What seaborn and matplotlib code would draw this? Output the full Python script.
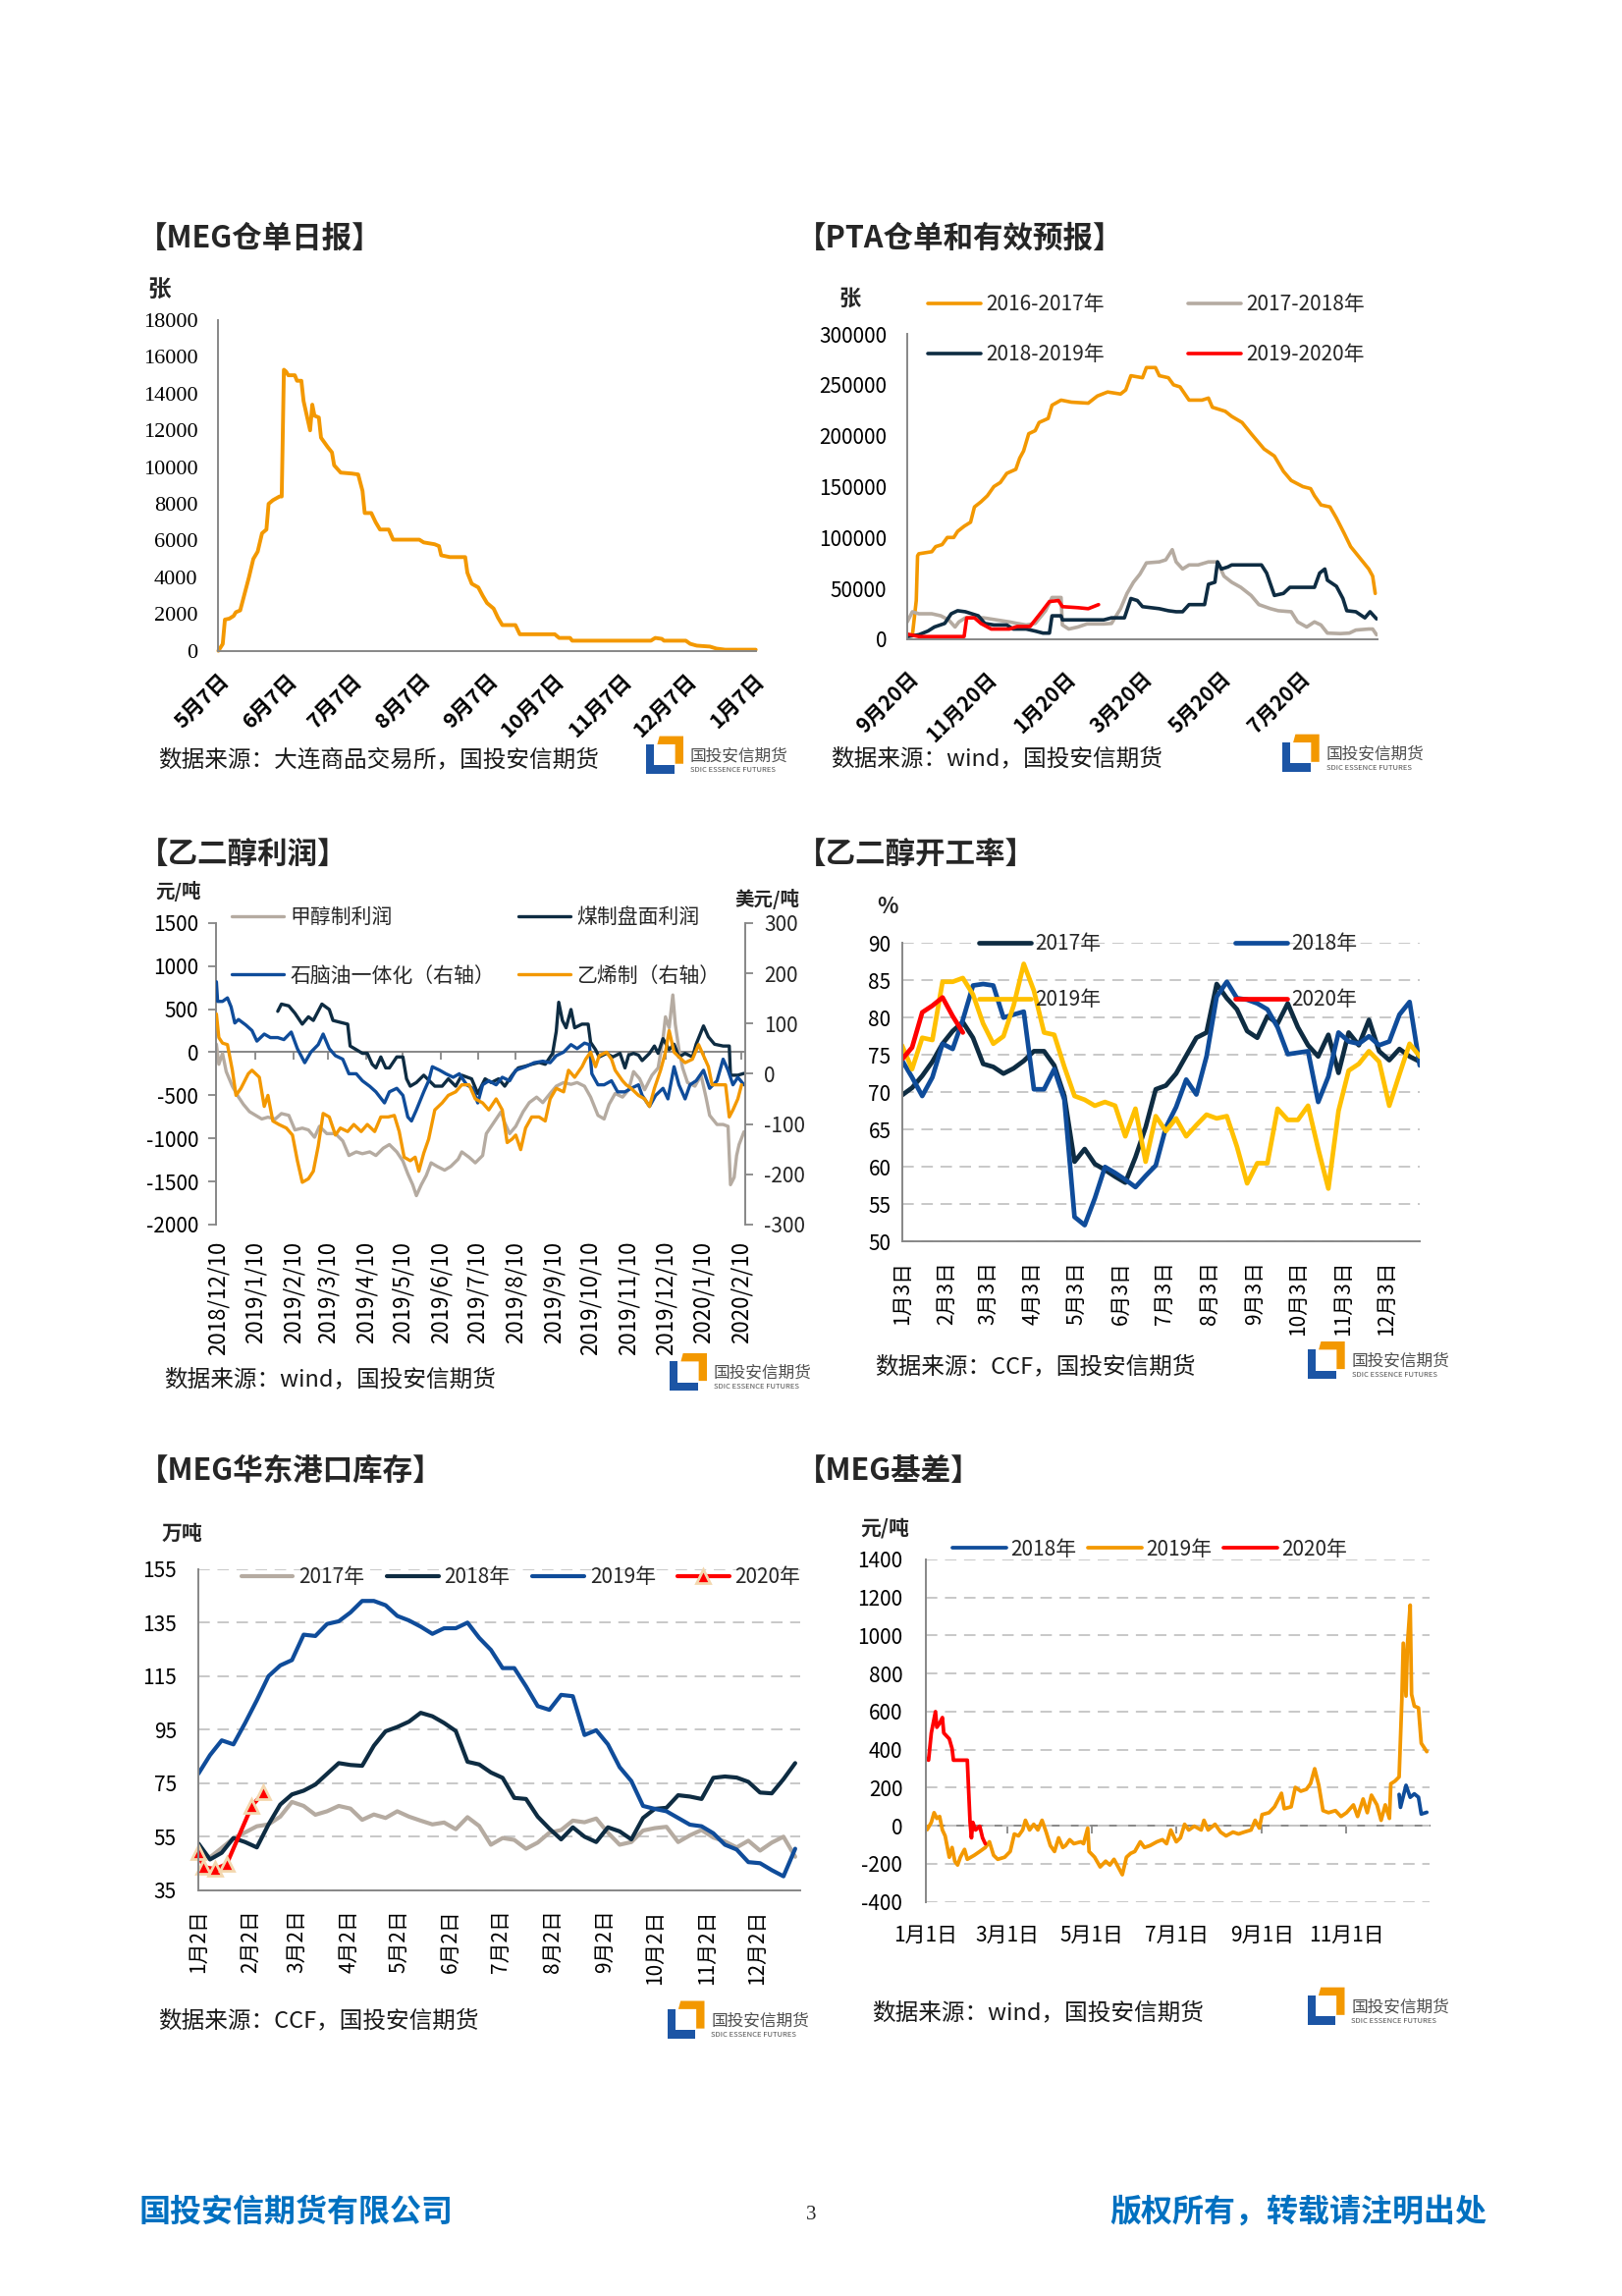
import pandas as pd
import matplotlib
matplotlib.use("Agg")
import matplotlib.pyplot as plt
import seaborn as sns
from matplotlib.patches import Polygon

W, H = 1652, 2338

ORANGE = "#F39800"
GRAY = "#B5ABA1"
NAVY = "#0E2C42"
BLUE = "#0F4C9A"
RED = "#FF0000"
GOLD = "#FFC000"
AXIS_GRAY = "#878787"
GRID_GRAY = "#C8C8C8"
FOOT_BLUE = "#0070C0"
LOGO_BLUE = "#1C55A5"

# ---------------- data ----------------
# MEG warehouse receipts (dates, receipts)
meg_dates = ["2019-05-07", "2019-05-09", "2019-05-10", "2019-05-12", "2019-05-14", "2019-05-15",
             "2019-05-17", "2019-05-19", "2019-05-21", "2019-05-23", "2019-05-25", "2019-05-27",
             "2019-05-29", "2019-05-30", "2019-06-01", "2019-06-04", "2019-06-05", "2019-06-06",
             "2019-06-07", "2019-06-08", "2019-06-11", "2019-06-12", "2019-06-14", "2019-06-15",
             "2019-06-18", "2019-06-19", "2019-06-20", "2019-06-22", "2019-06-23", "2019-06-26",
             "2019-06-28", "2019-06-29", "2019-07-02", "2019-07-07", "2019-07-10", "2019-07-12",
             "2019-07-13", "2019-07-16", "2019-07-18", "2019-07-20", "2019-07-24", "2019-07-26",
             "2019-08-07", "2019-08-09", "2019-08-14", "2019-08-16", "2019-08-17", "2019-08-21",
             "2019-08-28", "2019-08-29", "2019-08-31", "2019-09-03", "2019-09-05", "2019-09-07",
             "2019-09-10", "2019-09-12", "2019-09-14", "2019-09-20", "2019-09-22", "2019-10-08",
             "2019-10-10", "2019-10-15", "2019-10-16", "2019-11-21", "2019-11-23", "2019-11-26",
             "2019-11-27", "2019-12-07", "2019-12-09", "2019-12-12", "2019-12-18", "2019-12-21",
             "2019-12-25", "2020-01-08"]
meg_receipts = [0, 370, 1700, 1750, 1900, 2100,
                2200, 3100, 4000, 5000, 5400, 6400,
                6600, 8000, 8200, 8400, 8400, 15300,
                15200, 15000, 15000, 14700, 14700, 13600,
                12000, 13400, 12800, 12700, 11600, 11100,
                10800, 10100, 9700, 9650, 9600, 8700,
                7500, 7500, 7000, 6600, 6600, 6050,
                6050, 5900, 5800, 5700, 5200, 5100,
                5100, 4250, 3650, 3450, 3000, 2600,
                2300, 1800, 1400, 1400, 900, 900,
                700, 700, 550, 550, 700, 650,
                550, 550, 380, 280, 230, 120,
                60, 60]
meg_tick_dates = ["2019-05-07", "2019-06-07", "2019-07-07", "2019-08-07", "2019-09-07",
                  "2019-10-07", "2019-11-07", "2019-12-07", "2020-01-07"]
meg_tick_labels = ["5月7日", "6月7日", "7月7日", "8月7日", "9月7日", "10月7日", "11月7日", "12月7日", "1月7日"]

# PTA receipts: (days after 9月20日, receipts)
pta_1617 = [(0, 4400), (4, 4000), (7, 38000), (8, 82000), (9, 84000), (19, 86000), (22, 91000),
            (27, 93000), (31, 100000), (36, 100000), (39, 106000), (44, 111000), (49, 115000),
            (52, 130000), (57, 135000), (62, 141000), (67, 150000), (72, 154000), (77, 163000),
            (84, 167000), (87, 178000), (90, 185000), (94, 202000), (99, 205000), (102, 213000),
            (109, 217000), (112, 230000), (119, 235000), (127, 233000), (140, 232000), (147, 239000),
            (155, 243000), (165, 241000), (169, 245000), (173, 259000), (182, 257000), (185, 267000),
            (192, 267000), (195, 259000), (202, 257000), (206, 250000), (211, 248000), (218, 235000),
            (228, 235000), (233, 237000), (236, 228000), (246, 224000), (251, 219000), (259, 213000),
            (266, 202000), (276, 187000), (284, 180000), (291, 165000), (297, 156000), (306, 150000),
            (312, 148000), (315, 141000), (320, 132000), (327, 130000), (332, 119000), (338, 104000),
            (343, 91000), (350, 80000), (357, 69000), (360, 62000), (362, 45000)]
pta_1718 = [(0, 17000), (4, 27000), (9, 25000), (19, 25000), (26, 23000), (32, 19000), (37, 12000),
            (40, 17000), (45, 21000), (59, 21000), (69, 19000), (79, 17000), (85, 15500), (92, 14000),
            (99, 15500), (107, 28000), (112, 41000), (119, 41000), (120, 14000), (125, 10000),
            (132, 12000), (139, 15000), (152, 15000), (158, 15500), (165, 30000), (170, 45000),
            (175, 56000), (180, 64000), (185, 75000), (195, 76000), (200, 78000), (205, 88000),
            (208, 76000), (213, 69000), (218, 73000), (225, 73000), (233, 76000), (240, 76000),
            (245, 62000), (251, 56000), (258, 51000), (266, 43000), (272, 34000), (281, 30000),
            (287, 28000), (297, 27000), (302, 17000), (309, 12000), (315, 17000), (320, 14000),
            (325, 6000), (335, 5500), (342, 6000), (347, 9000), (357, 10000), (360, 10000), (363, 4400)]
pta_1819 = [(0, 2600), (9, 4400), (16, 8000), (21, 12000), (29, 15500), (34, 25000), (39, 28000),
            (45, 27000), (50, 25000), (55, 23000), (60, 15500), (67, 14000), (77, 14000), (82, 10000),
            (92, 10000), (99, 8000), (105, 6000), (110, 6000), (112, 23000), (119, 23000), (120, 19000),
            (152, 19000), (158, 21000), (168, 21000), (173, 40000), (178, 38000), (182, 32000),
            (195, 30000), (202, 28000), (208, 27000), (213, 27000), (218, 34000), (230, 34000),
            (233, 54000), (238, 56000), (240, 76000), (243, 69000), (248, 71000), (251, 73000),
            (274, 73000), (278, 65000), (284, 43000), (291, 45000), (296, 51000), (315, 51000),
            (319, 65000), (323, 69000), (325, 58000), (332, 52000), (337, 40000), (340, 28000),
            (347, 27000), (354, 21000), (358, 27000), (363, 20000)]
pta_1920 = [(0, 5000), (9, 2600), (44, 2600), (46, 21000), (52, 21000), (57, 15500), (65, 10000),
            (79, 10000), (85, 12500), (95, 12500), (104, 27000), (110, 37000), (117, 38000),
            (120, 32000), (132, 31000), (140, 30000), (148, 34000)]
pta_tick_dates = ["2016-09-20", "2016-11-20", "2017-01-20", "2017-03-20", "2017-05-20", "2017-07-20"]
pta_tick_labels = ["9月20日", "11月20日", "1月20日", "3月20日", "5月20日", "7月20日"]

# MEG profit: (days after 2018/12/10, value)
meoh_profit = [(-1, 93), (1, -140), (4, -13), (7, -225), (12, -395), (17, -520), (21, -605), (26, -690),
               (31, -733), (36, -775), (41, -754), (47, -775), (52, -712), (58, -733), (63, -902),
               (69, -881), (74, -902), (79, -987), (83, -860), (89, -945), (96, -945), (102, -1030),
               (107, -1199), (113, -1157), (118, -1178), (124, -1157), (129, -1199), (135, -1114),
               (140, -1072), (146, -1157), (151, -1263), (155, -1411), (159, -1538), (162, -1665),
               (166, -1538), (170, -1432), (174, -1284), (179, -1326), (185, -1369), (190, -1326),
               (196, -1242), (199, -1157), (205, -1220), (210, -1284), (216, -1199), (219, -945),
               (225, -818), (231, -691), (234, -818), (238, -945), (243, -860), (249, -691), (254, -585),
               (260, -521), (265, -585), (271, -479), (276, -394), (282, -352), (288, -373), (293, -352),
               (299, -394), (304, -521), (310, -733), (315, -775), (319, -606), (324, -479), (330, -521),
               (335, -436), (339, -225), (344, -309), (348, -436), (354, -267), (359, -182), (363, 157),
               (365, 411), (368, 284), (371, 665), (373, 326), (376, 30), (379, -182), (383, -352),
               (389, -394), (394, -267), (398, -521), (401, -733), (407, -839), (412, -839), (416, -860),
               (418, -1538), (421, -1453), (423, -1199), (425, -1072), (429, -924)]
coal_profit = [(49, 475), (52, 559), (58, 538), (63, 453), (69, 326), (74, 411), (78, 369), (85, 559),
               (91, 496), (94, 369), (100, 347), (106, 326), (108, 72), (113, 30), (118, -13), (122, -13),
               (126, -140), (129, -182), (133, -55), (137, -182), (140, -182), (146, -55), (151, -55),
               (154, -309), (157, -394), (162, -352), (168, -267), (174, -352), (177, -394), (183, -394),
               (188, -309), (194, -394), (199, -267), (207, -309), (212, -479), (218, -309), (223, -352),
               (229, -309), (234, -394), (240, -267), (245, -182), (251, -161), (256, -140), (262, -119),
               (267, -140), (273, -13), (276, 242), (278, 580), (281, 369), (284, 284), (288, 496),
               (291, 284), (297, 326), (302, 326), (304, 114), (308, 30), (311, -55), (317, -13),
               (322, -55), (328, -13), (332, -182), (335, -34), (339, -13), (343, -34), (346, -97),
               (352, -13), (356, 72), (359, -13), (363, 157), (368, 30), (372, 93), (376, -55), (381, -13),
               (387, -55), (390, 93), (396, 305), (400, 178), (405, 93), (412, 72), (417, 72), (418, -267),
               (424, -267), (429, -246)]
naphtha_profit = [(-1, 183), (0, 144), (4, 144), (8, 151), (11, 133), (14, 101), (17, 108), (23, 97),
                  (28, 86), (32, 65), (38, 79), (43, 72), (49, 72), (54, 68), (60, 83), (65, 50), (71, 22),
                  (76, 43), (82, 58), (86, 79), (91, 50), (96, 36), (102, 29), (107, 0), (113, 0),
                  (118, -14), (124, -25), (129, -36), (136, -58), (140, -36), (146, -29), (151, -43),
                  (155, -86), (158, -94), (162, -72), (168, -36), (172, -14), (175, 14), (181, 7), (186, 0),
                  (192, -7), (197, 0), (203, -22), (208, -29), (212, -58), (216, -22), (221, -14),
                  (227, -22), (232, -7), (238, -14), (243, 7), (251, 14), (258, 22), (265, 25), (271, 22),
                  (276, 36), (282, 43), (288, 58), (293, 50), (299, 61), (303, 58), (305, 0), (310, -22),
                  (315, -22), (321, -14), (326, -36), (332, -36), (337, -29), (343, -22), (346, -43),
                  (352, -65), (357, -43), (363, -29), (367, -50), (372, 14), (376, -22), (381, -50),
                  (385, -22), (390, -14), (396, 7), (401, -29), (407, -14), (412, 29), (416, 7), (420, -22),
                  (424, -7), (429, -22)]
ethylene_profit = [(-1, 119), (1, 72), (4, 61), (8, 58), (12, 7), (15, -43), (19, -29), (25, 0), (28, 7),
                   (34, -7), (38, -65), (41, -43), (45, -94), (50, -101), (56, -108), (61, -122),
                   (65, -173), (69, -216), (74, -209), (78, -194), (82, -144), (86, -79), (91, -86),
                   (96, -122), (100, -108), (106, -115), (111, -101), (117, -115), (122, -101), (128, -115),
                   (133, -86), (139, -86), (144, -83), (148, -115), (152, -166), (157, -173), (161, -166),
                   (164, -194), (168, -158), (172, -130), (177, -72), (183, -58), (188, -43), (194, -36),
                   (199, -22), (205, -22), (210, -50), (216, -58), (221, -72), (227, -50), (232, -72),
                   (236, -137), (240, -130), (243, -122), (247, -151), (251, -108), (256, -86), (262, -86),
                   (267, -94), (271, -50), (276, -29), (282, -36), (286, 7), (291, -7), (297, 14), (300, 29),
                   (304, 43), (308, 14), (311, 36), (317, 43), (321, 29), (324, 7), (330, -14), (333, -22),
                   (337, -29), (343, -43), (348, -50), (352, -65), (356, -29), (361, 7), (365, 43), (368, 86),
                   (372, 43), (378, 29), (381, 22), (387, 29), (392, 58), (396, 36), (400, 14), (403, -22),
                   (409, -22), (414, -22), (417, -86), (420, -72), (424, -50), (427, -22)]
profit_tick_labels = ["2018/12/10", "2019/1/10", "2019/2/10", "2019/3/10", "2019/4/10", "2019/5/10",
                      "2019/6/10", "2019/7/10", "2019/8/10", "2019/9/10", "2019/10/10", "2019/11/10",
                      "2019/12/10", "2020/1/10", "2020/2/10"]

# MEG operating rate, weekly from 1月3日 (%)
rate_2017 = [69.6, 70.6, 72.2, 74.1, 76.5, 78.2, 79.4, 77.3, 73.8, 73.4,
             72.5, 73.2, 74.2, 75.5, 75.5, 73.6, 69.5, 60.7, 62.4, 60.4,
             59.6, 58.7, 57.9, 61.3, 65.3, 70.4, 70.9, 72.5, 74.9, 77.3,
             78.0, 84.5, 82.6, 81.1, 78.2, 77.3, 80.2, 79.2, 81.9, 78.7,
             76.3, 74.8, 77.7, 72.6, 78.0, 76.3, 79.7, 75.5, 74.3, 75.8,
             74.8, 74.1]
rate_2018 = [74.3, 72.0, 69.5, 72.0, 76.5, 75.8, 79.7, 84.3, 84.5, 84.3,
             80.0, 80.4, 80.8, 70.4, 70.4, 73.1, 69.0, 53.3, 52.2, 55.8,
             60.0, 59.2, 58.3, 57.3, 58.8, 60.2, 65.3, 68.0, 71.7, 69.7,
             74.8, 82.8, 84.8, 82.6, 82.4, 81.9, 81.1, 78.7, 75.1, 75.3,
             75.5, 68.7, 72.1, 78.0, 76.8, 76.5, 77.5, 76.3, 76.8, 80.4,
             82.1, 73.6]
rate_2019 = [76.3, 73.1, 77.3, 77.0, 84.8, 84.8, 85.3, 83.1, 79.2, 76.5,
             77.5, 81.6, 87.2, 83.6, 78.0, 77.7, 73.4, 69.5, 69.0, 68.2,
             68.7, 68.2, 64.1, 67.8, 60.7, 66.8, 64.8, 66.5, 64.1, 65.6,
             67.0, 66.5, 66.8, 62.7, 57.8, 60.5, 60.5, 67.8, 66.3, 66.3,
             68.2, 62.4, 57.1, 67.5, 72.9, 73.8, 75.5, 74.1, 68.2, 72.4,
             76.5, 74.8]
rate_2020 = [74.4, 76.0, 80.7, 81.6, 82.7, 80.2, 78.0]
rate_tick_dates = ["2019-%02d-03" % m for m in range(1, 13)]
rate_tick_labels = ["%d月3日" % m for m in range(1, 13)]

# MEG East China port inventory, weekly from 1月2日 (万吨)
inv_2017 = [48.8, 47.3, 50.8, 54.4, 56.6, 58.9, 59.6, 62.5, 68.0, 66.5,
            63.2, 64.5, 66.5, 65.5, 61.3, 63.3, 62.0, 64.5, 62.5, 61.0,
            59.6, 60.3, 57.8, 62.3, 59.0, 52.0, 54.5, 53.8, 50.5, 52.8,
            56.5, 57.5, 61.0, 60.4, 61.8, 56.5, 52.0, 53.0, 57.3, 58.2,
            58.7, 53.0, 55.5, 57.5, 54.7, 53.2, 51.0, 53.5, 49.8, 52.8,
            55.0, 47.5]
inv_2018 = [52.5, 46.5, 49.0, 54.5, 53.0, 51.0, 59.6, 67.0, 70.8, 72.2,
            74.5, 78.5, 82.5, 81.8, 81.5, 89.0, 94.4, 96.0, 98.0, 101.3,
            100.0, 97.5, 94.5, 83.0, 82.0, 79.0, 77.0, 69.5, 69.1, 62.5,
            58.0, 54.0, 58.5, 55.0, 53.0, 58.5, 57.0, 54.0, 62.0, 65.4,
            65.8, 70.5, 70.0, 69.1, 77.0, 77.5, 77.1, 75.5, 71.5, 71.2,
            76.5, 82.5]
inv_2019 = [78.5, 85.5, 91.0, 89.5, 97.5, 106.0, 115.0, 119.0, 121.0, 130.5,
            130.0, 134.5, 135.5, 138.8, 143.1, 143.1, 141.5, 137.5, 135.8, 133.5,
            130.8, 132.9, 132.9, 135.0, 129.3, 124.8, 118.0, 118.0, 111.2, 103.8,
            102.4, 108.0, 107.5, 93.0, 94.8, 89.5, 81.0, 75.8, 66.5, 65.4,
            64.5, 62.0, 59.5, 58.9, 56.3, 52.0, 50.2, 45.5, 45.1, 42.5,
            40.2, 50.5]
inv_2020_days = [0, 3, 10, 17, 32, 39]
inv_2020 = [49.4, 43.7, 42.9, 44.8, 66.5, 71.5]
inv_tick_dates = ["2019-%02d-02" % m for m in range(1, 13)]
inv_tick_labels = ["%d月2日" % m for m in range(1, 13)]

# MEG basis: (days after 1月1日, 元/吨)
basis_2018 = [(342, 165), (343, 97), (347, 213), (350, 150), (353, 168), (356, 150), (358, 62), (362, 71)]
basis_2019 = [(0, 0), (1, -20), (4, 18), (6, 69), (8, 39), (10, 49), (12, -22), (14, -53), (17, -165),
              (19, -114), (21, -186), (23, -206), (25, -165), (28, -124), (30, -176), (35, -155), (39, -135),
              (43, -114), (46, -84), (49, -155), (52, -176), (57, -165), (61, -135), (64, -43), (67, -53),
              (70, -22), (72, 29), (75, -22), (78, 8), (81, -22), (84, 29), (87, -33), (90, -104),
              (93, -135), (96, -63), (99, -114), (101, -104), (104, -73), (107, -94), (112, -84), (114, -94),
              (117, -12), (118, -135), (122, -165), (126, -216), (130, -186), (133, -206), (136, -176),
              (139, -216), (142, -257), (145, -165), (148, -145), (151, -135), (155, -84), (158, -114),
              (162, -104), (167, -84), (171, -73), (174, -94), (177, -22), (181, -84), (184, -63), (187, 8),
              (190, -22), (194, -2), (199, -22), (201, 29), (204, -22), (209, 8), (213, -33), (217, -53),
              (222, -33), (226, -43), (230, -33), (235, -22), (238, 29), (241, -12), (243, 59), (248, 69),
              (252, 100), (257, 171), (259, 90), (264, 100), (267, 202), (271, 182), (275, 192), (278, 222),
              (281, 300), (284, 212), (287, 80), (291, 69), (296, 80), (300, 49), (304, 69), (309, 110),
              (312, 49), (316, 141), (319, 69), (322, 161), (326, 110), (329, 29), (332, 110), (335, 39),
              (336, 221), (339, 235), (342, 257), (344, 665), (345, 960), (347, 682), (348, 950),
              (350, 1160), (351, 691), (353, 629), (356, 620), (358, 434), (362, 390)]
basis_2020 = [(0, 355), (2, 345), (4, 488), (7, 600), (8, 518), (10, 539), (12, 569), (13, 488), (17, 457),
              (19, 406), (20, 345), (30, 345), (32, 18), (33, -63), (34, 18), (36, -22), (39, -2), (41, -63),
              (43, -94)]
basis_tick_dates = ["2019-01-01", "2019-03-01", "2019-05-01", "2019-07-01", "2019-09-01", "2019-11-01"]
basis_tick_labels = ["1月1日", "3月1日", "5月1日", "7月1日", "9月1日", "11月1日"]

# ---------------- drawing ----------------
sns.set_style("white")
plt.rcParams["font.family"] = ["Noto Sans CJK SC", "DejaVu Sans"]
plt.rcParams["axes.unicode_minus"] = False

fig = plt.figure(figsize=(W / 100, H / 100), dpi=100)


def fx(px):
    return px / W


def fy(py):
    return 1 - py / H


def add_axes(left, top, right, bottom):
    return fig.add_axes([fx(left), fy(bottom), (right - left) / W, (bottom - top) / H])


def offsets(dates, base):
    return list((pd.to_datetime(dates) - pd.Timestamp(base)).days)


def style(ax, ypad=8, xpad=6):
    for s in ["top", "right"]:
        ax.spines[s].set_visible(False)
    for s in ["left", "bottom"]:
        ax.spines[s].set_color(AXIS_GRAY)
        ax.spines[s].set_linewidth(1.4)
    ax.tick_params(axis="both", direction="out", length=6, width=1.3, color=AXIS_GRAY,
                   labelsize=15, labelcolor="black")
    ax.tick_params(axis="y", pad=ypad)
    ax.tick_params(axis="x", pad=xpad)
    ax.set_xlabel("")
    ax.set_ylabel("")
    ax.grid(False)


def dashed_grid(ax):
    ax.yaxis.grid(True, linestyle=(0, (6, 4)), color=GRID_GRAY, linewidth=1.4)
    ax.set_axisbelow(True)


def draw(ax, x, y, color, lw, **kw):
    sns.lineplot(x=list(x), y=list(y), color=color, linewidth=lw, ax=ax,
                 estimator=None, sort=False, legend=False, **kw)
    return ax.lines[-1]


def draw_pairs(ax, pairs, color, lw, **kw):
    xs, ys = zip(*pairs)
    return draw(ax, xs, ys, color, lw, **kw)


def legend_entry(handle, label, x, y, hl_px, pad=0.25, fs=15):
    size_px = fs * 100 / 72
    fig.legend([handle], [label], loc="center left", bbox_to_anchor=(fx(x), fy(y)),
               bbox_transform=fig.transFigure, frameon=False, fontsize=fs,
               handlelength=hl_px / size_px, handletextpad=pad, borderpad=0, borderaxespad=0)


def zero_axis(ax, ticks, ymin, ymax):
    sec = ax.secondary_xaxis((0 - ymin) / (ymax - ymin))
    sec.set_alignment("bottom")
    sec.set_xticks(ticks)
    sec.tick_params(axis="x", direction="out", length=6, width=1.3, color=AXIS_GRAY,
                    labelbottom=False, labeltop=False)
    sec.spines["bottom"].set_color(AXIS_GRAY)
    sec.spines["bottom"].set_linewidth(1.4)
    sec.spines["top"].set_visible(False)


def rotate45(ax, fs, bold=True):
    for lab in ax.get_xticklabels():
        lab.set_rotation(45)
        lab.set_ha("right")
        lab.set_rotation_mode("anchor")
        lab.set_fontsize(fs)
        if bold:
            lab.set_fontweight("bold")


def title(x, y, s):
    fig.text(fx(x), fy(y), s, fontsize=22, fontweight="bold", va="center", ha="left")


def note(x, y, s, fs=15, bold=True):
    fig.text(fx(x), fy(y), s, fontsize=fs, fontweight="bold" if bold else "normal",
             va="center", ha="left")


def source(x, y, s):
    fig.text(fx(x), fy(y), s, fontsize=17, va="center", ha="left", color="#1A1A1A")


def logo(x, y):
    s = 38

    def poly(pts, color):
        verts = [(fx(x + a * s), fy(y + (1 - b) * s)) for a, b in pts]
        fig.add_artist(Polygon(verts, closed=True, facecolor=color, edgecolor="none",
                               transform=fig.transFigure))

    poly([(0, 0), (0.76, 0), (0.76, 0.22), (0.22, 0.22), (0.22, 0.78), (0, 0.78)], LOGO_BLUE)
    poly([(0.30, 0.78), (0.36, 1.0), (1.0, 1.0), (1.0, 0.26), (0.78, 0.26), (0.78, 0.78)], ORANGE)
    fig.text(fx(x + s + 7), fy(y + 20), "国投安信期货", fontsize=12, color="#505050", va="center")
    fig.text(fx(x + s + 7), fy(y + 34), "SDIC ESSENCE FUTURES", fontsize=5.5, color="#505050",
             va="center")


# ---- chart 1: MEG仓单日报 ----
ax1 = add_axes(222.4, 326, 769.7, 662.7)
base1 = "2019-05-07"
draw(ax1, offsets(meg_dates, base1), meg_receipts, ORANGE, 2.8, clip_on=False)
style(ax1, ypad=9, xpad=8)
ax1.set_xlim(0, offsets(["2020-01-08"], base1)[0])
ax1.set_ylim(0, 18000)
ax1.set_yticks(range(0, 18001, 2000))
ax1.set_yticklabels([str(v) for v in range(0, 18001, 2000)], family="Liberation Serif", fontsize=16)
ax1.set_xticks(offsets(meg_tick_dates, base1))
ax1.set_xticklabels(meg_tick_labels)
rotate45(ax1, 15.5)
title(140, 242.5, "【MEG仓单日报】")
note(150.8, 296, "张", fs=17)
source(160.8, 774.5, "数据来源：大连商品交易所，国投安信期货")
logo(658, 749.6)

# ---- chart 2: PTA仓单和有效预报 ----
ax2 = add_axes(924, 340.1, 1403.3, 650.9)
h_1617 = draw_pairs(ax2, pta_1617, ORANGE, 2.6)
h_1718 = draw_pairs(ax2, pta_1718, GRAY, 2.6)
h_1819 = draw_pairs(ax2, pta_1819, NAVY, 2.6)
h_1920 = draw_pairs(ax2, pta_1920, RED, 2.6)
style(ax2, ypad=9, xpad=15)
ax2.set_xlim(0, 364)
ax2.set_ylim(0, 300000)
ax2.set_yticks(range(0, 300001, 50000))
ax2.set_yticklabels([str(v) for v in range(0, 300001, 50000)])
ax2.set_xticks(offsets(pta_tick_dates, "2016-09-20"))
ax2.set_xticklabels(pta_tick_labels)
rotate45(ax2, 15)
title(811, 242.5, "【PTA仓单和有效预报】")
note(854.7, 303.8, "张", fs=16)
legend_entry(h_1617, "2016-2017年", 944.5, 310.3, 54)
legend_entry(h_1718, "2017-2018年", 1210.3, 310.3, 54)
legend_entry(h_1819, "2018-2019年", 944.5, 361.2, 54)
legend_entry(h_1920, "2019-2020年", 1210.3, 361.2, 54)
source(846, 772.6, "数据来源：wind，国投安信期货")
logo(1305.7, 747.7)

# ---- chart 3: 乙二醇利润 ----
ax3 = add_axes(220.4, 939.9, 759, 1246.9)
ax3r = ax3.twinx()
h_meoh = draw_pairs(ax3, meoh_profit, GRAY, 2.4)
h_coal = draw_pairs(ax3, coal_profit, NAVY, 2.4)
h_nap = draw_pairs(ax3r, naphtha_profit, BLUE, 2.4)
h_eth = draw_pairs(ax3r, ethylene_profit, ORANGE, 2.4)
style(ax3, ypad=7, xpad=12)
ax3.spines["bottom"].set_visible(False)
ax3.tick_params(axis="x", length=0)
ax3.set_xlim(-1, 430)
ax3.set_ylim(-2000, 1500)
ax3.set_yticks(range(-2000, 1501, 500))
prof_ticks = offsets(pd.to_datetime(profit_tick_labels, format="%Y/%m/%d"), "2018-12-10")
ax3.set_xticks(prof_ticks)
ax3.set_xticklabels(profit_tick_labels, rotation=90, fontsize=16)
zero_axis(ax3, prof_ticks, -2000, 1500)
for s in ["top", "left", "bottom"]:
    ax3r.spines[s].set_visible(False)
ax3r.spines["right"].set_color(AXIS_GRAY)
ax3r.spines["right"].set_linewidth(1.4)
ax3r.set_ylim(-300, 300)
ax3r.set_yticks(range(-300, 301, 100))
ax3r.tick_params(axis="y", direction="out", length=6, width=1.3, color=AXIS_GRAY, labelsize=15, pad=8)
ax3r.set_ylabel("")
ax3r.grid(False)
title(141, 870.3, "【乙二醇利润】")
note(158.4, 907.3, "元/吨", fs=14)
note(748.4, 915.8, "美元/吨", fs=14)
legend_entry(h_meoh, "甲醇制利润", 236.4, 934.3, 52.8, pad=0.3)
legend_entry(h_coal, "煤制盘面利润", 528, 934.3, 52.8, pad=0.3)
legend_entry(h_nap, "石脑油一体化（右轴）", 236.4, 993.5, 52.8, pad=0.3)
legend_entry(h_eth, "乙烯制（右轴）", 528, 993.5, 52.8, pad=0.3)
source(167.6, 1404.9, "数据来源：wind，国投安信期货")
logo(682, 1378)

# ---- chart 4: 乙二醇开工率 ----
ax4 = add_axes(918.6, 960.2, 1446, 1264.3)
h_r17 = draw(ax4, [7 * i for i in range(len(rate_2017))], rate_2017, NAVY, 3.4)
h_r18 = draw(ax4, [7 * i for i in range(len(rate_2018))], rate_2018, BLUE, 3.4)
h_r19 = draw(ax4, [7 * i for i in range(len(rate_2019))], rate_2019, GOLD, 3.4)
h_r20 = draw(ax4, [7 * i for i in range(len(rate_2020))], rate_2020, RED, 3.4)
style(ax4, ypad=2, xpad=8)
dashed_grid(ax4)
ax4.set_xlim(0, 357)
ax4.set_ylim(50, 90)
ax4.set_yticks(range(50, 91, 5))
ax4.set_xticks(offsets(rate_tick_dates, "2019-01-03"))
ax4.set_xticklabels(rate_tick_labels, rotation=90, fontsize=15)
title(811, 870.3, "【乙二醇开工率】")
note(892.9, 924, "%", fs=16)
legend_entry(h_r17, "2017年", 997, 961, 53, pad=0.2)
legend_entry(h_r18, "2018年", 1258, 961, 53, pad=0.2)
legend_entry(h_r19, "2019年", 997, 1018.3, 53, pad=0.2)
legend_entry(h_r20, "2020年", 1258, 1018.3, 53, pad=0.2)
source(890.8, 1392, "数据来源：CCF，国投安信期货")
logo(1331.7, 1366)

# ---- chart 5: MEG华东港口库存 ----
ax5 = add_axes(202, 1597.8, 815, 1924.8)
h_i17 = draw(ax5, [7 * i for i in range(len(inv_2017))], inv_2017, GRAY, 3.0)
h_i18 = draw(ax5, [7 * i for i in range(len(inv_2018))], inv_2018, NAVY, 3.0)
h_i19 = draw(ax5, [7 * i for i in range(len(inv_2019))], inv_2019, BLUE, 3.0)
h_i20 = draw(ax5, inv_2020_days, inv_2020, RED, 3.0, marker="^", markersize=10,
             markerfacecolor=RED, markeredgecolor="#F3D7AE", markeredgewidth=2, clip_on=False)
style(ax5, ypad=10, xpad=8)
dashed_grid(ax5)
ax5.set_xlim(0, 360)
ax5.set_ylim(35, 155)
ax5.set_yticks(range(35, 156, 20))
ax5.set_xticks(offsets(inv_tick_dates, "2019-01-02"))
ax5.set_xticklabels(inv_tick_labels, rotation=90, fontsize=15)
title(141, 1497.8, "【MEG华东港口库存】")
note(165, 1561, "万吨", fs=15)
legend_entry(h_i17, "2017年", 245.6, 1606.5, 52.8, pad=0.28)
legend_entry(h_i18, "2018年", 394, 1606.5, 52.8, pad=0.28)
legend_entry(h_i19, "2019年", 542.3, 1606.5, 52.8, pad=0.28)
legend_entry(h_i20, "2020年", 690, 1606.5, 52.8, pad=0.28)
source(160.7, 2057.3, "数据来源：CCF，国投安信期货")
logo(679.5, 2037.5)

# ---- chart 6: MEG基差 ----
ax6 = add_axes(942.9, 1588, 1456, 1936.7)
h_b19 = draw_pairs(ax6, basis_2019, ORANGE, 2.7)
h_b18 = draw_pairs(ax6, basis_2018, BLUE, 2.7)
h_b20 = draw_pairs(ax6, basis_2020, RED, 2.7)
style(ax6, ypad=11, xpad=17)
dashed_grid(ax6)
ax6.spines["bottom"].set_visible(False)
ax6.tick_params(axis="x", length=0)
ax6.set_xlim(0, 364)
ax6.set_ylim(-400, 1400)
ax6.set_yticks(range(-400, 1401, 200))
basis_ticks = offsets(basis_tick_dates, "2019-01-01")
ax6.set_xticks(basis_ticks)
ax6.set_xticklabels(basis_tick_labels, fontsize=15)
zero_axis(ax6, basis_ticks, -400, 1400)
title(811, 1497.8, "【MEG基差】")
note(876.3, 1555.9, "元/吨", fs=15)
legend_entry(h_b18, "2018年", 970.2, 1577.7, 55, pad=0.2)
legend_entry(h_b19, "2019年", 1108, 1577.7, 55, pad=0.2)
legend_entry(h_b20, "2020年", 1245.8, 1577.7, 55, pad=0.2)
source(888.6, 2049.4, "数据来源：wind，国投安信期货")
logo(1331.5, 2023.7)

# ---- footer ----
fig.text(fx(142), fy(2253), "国投安信期货有限公司", fontsize=23, fontweight="bold", color=FOOT_BLUE,
         va="center", ha="left")
fig.text(fx(826), fy(2256), "3", fontsize=15, family="Liberation Serif", va="center", ha="center")
fig.text(fx(1514), fy(2253), "版权所有，转载请注明出处", fontsize=23, fontweight="bold", color=FOOT_BLUE,
         va="center", ha="right")

fig.savefig("out.png", dpi=100, facecolor="white")
